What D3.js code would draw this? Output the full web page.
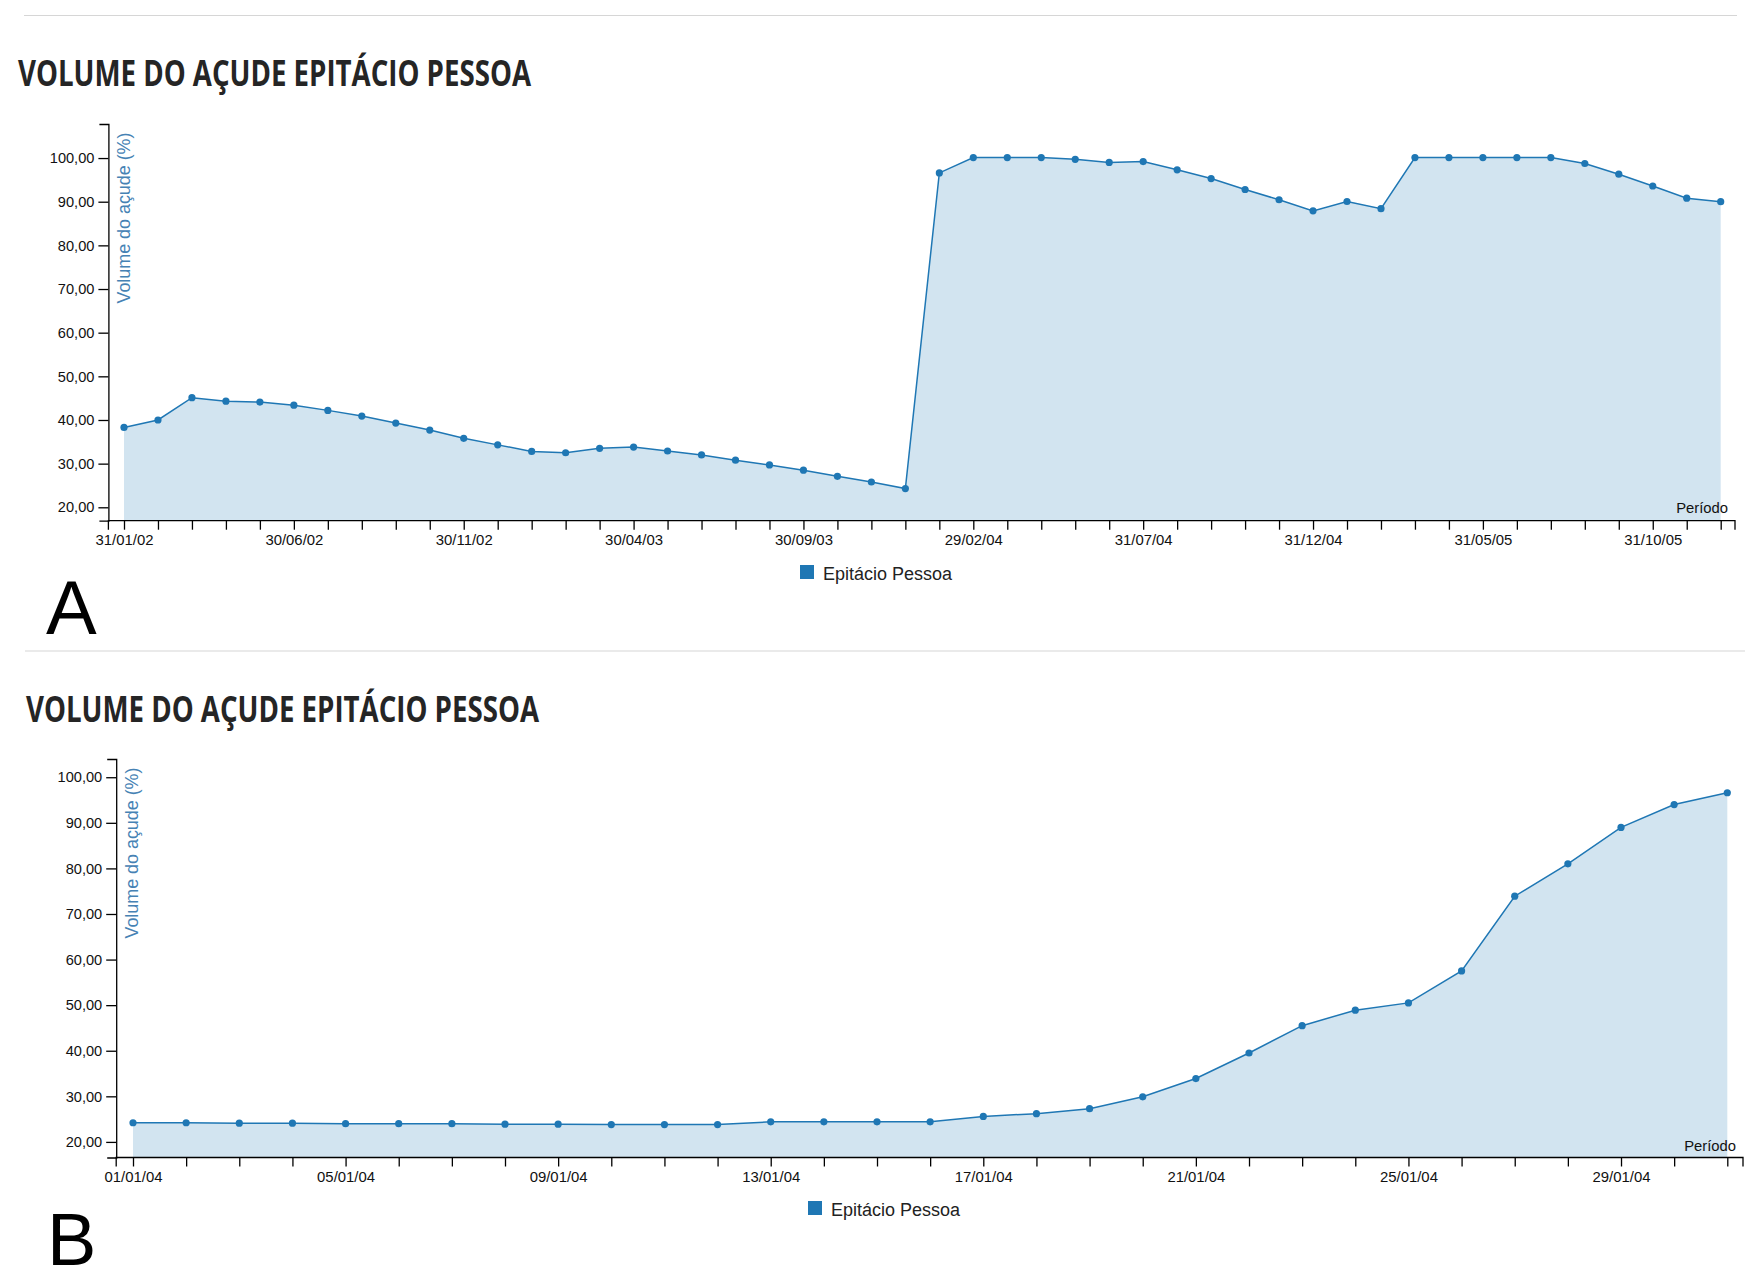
<!DOCTYPE html>
<html><head><meta charset="utf-8">
<script src="https://cdn.jsdelivr.net/npm/d3@7"></script>
<style>
body{margin:0;background:#fff}
svg{display:block}
text{font-family:"Liberation Sans",Arial,sans-serif}
</style>
</head><body>
<svg id="c" width="1752" height="1288"></svg>
<script>
const titleText = "VOLUME DO AÇUDE EPITÁCIO PESSOA";
const yLabelText = "Volume do açude (%)";
const xLabelText = "Período";
const seriesName = "Epitácio Pessoa";

const monthlyDates = [
 "31/01/02","28/02/02","31/03/02","30/04/02","31/05/02","30/06/02","31/07/02","31/08/02","30/09/02","31/10/02","30/11/02","31/12/02",
 "31/01/03","28/02/03","31/03/03","30/04/03","31/05/03","30/06/03","31/07/03","31/08/03","30/09/03","31/10/03","30/11/03","31/12/03",
 "31/01/04","29/02/04","31/03/04","30/04/04","31/05/04","30/06/04","31/07/04","31/08/04","30/09/04","31/10/04","30/11/04","31/12/04",
 "31/01/05","28/02/05","31/03/05","30/04/05","31/05/05","30/06/05","31/07/05","31/08/05","30/09/05","31/10/05","30/11/05","31/12/05"
];
const monthlyVolume = [
 38.3,40.0,45.1,44.3,44.1,43.4,42.2,40.9,39.3,37.7,35.8,34.3,
 32.8,32.5,33.5,33.8,32.9,32.0,30.8,29.7,28.5,27.1,25.8,24.3,
 96.6,100.1,100.1,100.1,99.7,99.0,99.2,97.3,95.3,92.8,90.45,87.9,
 90.05,88.4,100.1,100.1,100.1,100.1,100.1,98.75,96.3,93.6,90.8,90.0
];
const monthlyTickEvery = 5;

const dailyDates = [
 "01/01/04","02/01/04","03/01/04","04/01/04","05/01/04","06/01/04","07/01/04","08/01/04","09/01/04","10/01/04",
 "11/01/04","12/01/04","13/01/04","14/01/04","15/01/04","16/01/04","17/01/04","18/01/04","19/01/04","20/01/04",
 "21/01/04","22/01/04","23/01/04","24/01/04","25/01/04","26/01/04","27/01/04","28/01/04","29/01/04","30/01/04","31/01/04"
];
const dailyVolume = [
 24.2,24.2,24.1,24.1,24.0,24.0,24.0,23.9,23.9,23.8,
 23.8,23.8,24.4,24.4,24.4,24.4,25.6,26.2,27.3,29.9,
 33.9,39.5,45.5,48.9,50.5,57.5,73.9,81.0,89.0,94.0,96.6
];
const dailyTickEvery = 4;

const yDomainA = [16.93, 107.8];
const yDomainB = [16.58, 104.0];

const lineColor = "#1f77b4";
const svg = d3.select("#c");
svg.append("rect").attr("width",1752).attr("height",1288).attr("fill","#fff");

const locale = d3.formatLocale({decimal:",", thousands:".", grouping:[3], currency:["R$",""]});
const fmt = locale.format(".2f");

// separators
svg.append("line").attr("x1",24).attr("x2",1737).attr("y1",15.5).attr("y2",15.5).attr("stroke","#d6d6d6").attr("stroke-width",1.2);
svg.append("line").attr("x1",25).attr("x2",1745).attr("y1",651).attr("y2",651).attr("stroke","#d6d6d6").attr("stroke-width",1.2);

function panel(cfg){
  const g = svg.append("g");
  g.append("text").attr("x",cfg.titleX).attr("y",cfg.titleY)
    .attr("font-weight",700)
    .attr("font-size",35).attr("fill","#252525")
    .attr("textLength",513).attr("lengthAdjust","spacingAndGlyphs")
    .style("font-family","'Open Sans',sans-serif")
    .text(titleText);

  const x = d3.scalePoint().domain(cfg.dates).range([cfg.firstX, cfg.lastX]);
  const y = d3.scaleLinear().domain(cfg.yDomain).range([cfg.axisBottom, cfg.axisTop]);

  const area = d3.area().x((d,i)=>x(cfg.dates[i])).y0(cfg.axisBottom).y1(d=>y(d));
  const line = d3.line().x((d,i)=>x(cfg.dates[i])).y(d=>y(d));
  g.append("path").datum(cfg.values).attr("d",area).attr("fill",lineColor).attr("fill-opacity",0.2);
  g.append("path").datum(cfg.values).attr("d",line).attr("fill","none").attr("stroke",lineColor).attr("stroke-width",1.5);
  g.selectAll("circle.pt").data(cfg.values).join("circle").attr("class","pt")
    .attr("cx",(d,i)=>x(cfg.dates[i])).attr("cy",d=>y(d)).attr("r",3.6).attr("fill",lineColor);

  // x axis
  const xa = d3.axisBottom(x).tickSize(9).tickPadding(5).tickSizeOuter(0)
    .tickFormat((d,i)=> i % cfg.every === 0 ? d : "");
  const gx = g.append("g").attr("transform",`translate(0,${cfg.axisBottom})`).call(xa);
  gx.select(".domain").attr("d",`M${cfg.axisX},9V0H${cfg.axisRight}V9`);
  gx.selectAll("text").attr("font-size",14.9).attr("fill","#111").style("font-family","'Liberation Sans',Arial,sans-serif");
  gx.selectAll("path,line").attr("stroke","#000").attr("stroke-width",1.3);

  // y axis
  const ya = d3.axisLeft(y).ticks(10).tickSize(10).tickPadding(4).tickSizeOuter(9).tickFormat(fmt);
  const gy = g.append("g").attr("transform",`translate(${cfg.axisX},0)`).call(ya);
  gy.selectAll("text").attr("font-size",14.6).attr("fill","#111").style("font-family","'Liberation Sans',Arial,sans-serif");
  gy.selectAll("path,line").attr("stroke","#000").attr("stroke-width",1.3);

  g.append("text").attr("transform",`translate(${cfg.axisX+21.5},${cfg.axisTop+8.5}) rotate(-90)`)
    .attr("text-anchor","end").attr("font-size",17.9).attr("fill","#4682b4").text(yLabelText);

  g.append("text").attr("x",cfg.perX).attr("y",cfg.perY).attr("text-anchor","end")
    .attr("font-size",14.8).attr("fill","#111").text(xLabelText);

  g.append("rect").attr("x",cfg.legX).attr("y",cfg.legY).attr("width",14).attr("height",14).attr("fill",lineColor);
  g.append("text").attr("x",cfg.legX+23).attr("y",cfg.legY+14.5).attr("font-size",18).attr("fill","#222").text(seriesName);

  g.append("text").attr("x",cfg.letX).attr("y",cfg.letY).attr("font-size",cfg.letSize).attr("fill","#000").text(cfg.letter);
}

panel({dates:monthlyDates, values:monthlyVolume, every:monthlyTickEvery, yDomain:yDomainA,
  titleX:18, titleY:86, axisX:108.4, axisTop:124, axisBottom:520.7, axisRight:1735,
  firstX:124, lastX:1720.7, perX:1728, perY:513, legX:800, legY:565, letX:46, letY:634, letSize:76, letter:"A"});

panel({dates:dailyDates, values:dailyVolume, every:dailyTickEvery, yDomain:yDomainB,
  titleX:26, titleY:722, axisX:116.2, axisTop:759, axisBottom:1157.5, axisRight:1743,
  firstX:133, lastX:1727.3, perX:1736, perY:1151, legX:808, legY:1201, letX:47, letY:1265, letSize:74, letter:"B"});
</script>
</body></html>
